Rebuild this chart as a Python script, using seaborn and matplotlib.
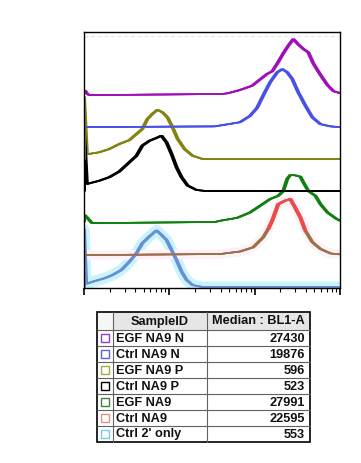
import matplotlib
matplotlib.use("Agg")
import numpy as np
import pandas as pd
import matplotlib.pyplot as plt
import matplotlib.transforms as mtransforms
from matplotlib.patches import Rectangle
from matplotlib.ticker import LogLocator, NullFormatter
import seaborn as sns

# ---------------- data ----------------
samples = ["EGF NA9 N", "Ctrl NA9 N", "EGF NA9 P", "Ctrl NA9 P", "EGF NA9", "Ctrl NA9", "Ctrl 2' only"]
medians = ["27430", "19876", "596", "523", "27991", "22595", "553"]
table_header = ["SampleID", "Median : BL1-A"]

egf_n_x = [100, 103, 108, 115, 3909, 4731, 6200, 7295, 9318, 12400, 14000, 16040, 18880, 21620, 24770,
           28360, 32510, 37240, 42650, 48860, 59050, 71430, 84100, 100000]
egf_n_y = [0.10, 0.14, 0.05, 0.0, 0.03, 0.05, 0.13, 0.19, 0.29, 0.55, 0.66, 0.74, 1.03, 1.30, 1.54,
           1.75, 1.58, 1.44, 1.33, 0.98, 0.63, 0.31, 0.12, 0.06]

ctrl_n_x = [100, 3413, 6730, 8830, 10670, 12560, 15190, 18370, 21050, 24100, 27590, 32510, 39300,
            47520, 59050, 77480, 100000]
ctrl_n_y = [0.0, 0.02, 0.15, 0.35, 0.60, 0.98, 1.40, 1.71, 1.81, 1.71, 1.50, 1.08, 0.67,
            0.30, 0.09, 0.02, 0.0]

egf_p_x = [100, 100, 108, 115, 150, 197, 259, 340, 411, 483, 553, 634, 726, 832, 953, 1091, 1250,
           1510, 1879, 2466, 100000]
egf_p_y = [0.0, 1.94, 0.16, 0.16, 0.21, 0.31, 0.47, 0.59, 0.78, 0.94, 1.25, 1.41, 1.54, 1.46, 1.30,
           0.99, 0.63, 0.31, 0.10, 0.0, 0.0]

ctrl_p_x = [100, 100, 108, 115, 150, 197, 259, 340, 411, 483, 584, 707, 809, 927, 1061, 1216, 1393,
            1640, 2094, 2748, 100000]
ctrl_p_y = [0.0, 1.94, 0.22, 0.24, 0.32, 0.43, 0.61, 0.90, 1.10, 1.42, 1.57, 1.66, 1.73, 1.52, 1.16,
            0.74, 0.43, 0.17, 0.03, 0.0, 0.0]

egf_x = [100, 102, 108, 124, 3413, 3909, 6200, 8830, 11580, 15190, 18880, 21620, 24100, 26140,
         29950, 34290, 37240, 42650, 51560, 59050, 71430, 88710, 100000]
egf_y = [0.05, 0.25, 0.18, 0.0, 0.03, 0.07, 0.16, 0.33, 0.54, 0.75, 0.85, 1.00, 1.38, 1.50,
         1.49, 1.45, 1.27, 1.00, 0.85, 0.59, 0.33, 0.15, 0.07]

ctrl_x = [100, 3909, 6730, 9573, 12560, 14390, 16040, 18880, 22810, 26140, 28360, 34290, 39300,
          47520, 59050, 77480, 100000]
ctrl_y = [0.0, 0.03, 0.11, 0.24, 0.55, 0.81, 1.07, 1.59, 1.70, 1.75, 1.59, 1.18, 0.76,
          0.40, 0.19, 0.05, 0.02]

sec_x = [100, 100, 106, 131, 172, 214, 273, 340, 411, 483, 584, 707, 809, 927, 1061, 1216, 1393,
         1596, 1879, 2466, 100000]
sec_y = [0.0, 1.80, 0.10, 0.18, 0.27, 0.37, 0.53, 0.79, 1.05, 1.37, 1.58, 1.77, 1.63, 1.47, 1.16,
         0.84, 0.48, 0.22, 0.06, 0.0, 0.0]

curves_x = [egf_n_x, ctrl_n_x, egf_p_x, ctrl_p_x, egf_x, ctrl_x, sec_x]
curves_y = [egf_n_y, ctrl_n_y, egf_p_y, ctrl_p_y, egf_y, ctrl_y, sec_y]

line_colors = ["#a010b8", "#4850e8", "#848414", "#000000", "#108010", "#9c7048", "#6a8ed6"]
swatch_colors = ["#9040c8", "#6060e0", "#a8a848", "#000000", "#408040", "#d89888", "#70d0e8"]
peak_red = "#f04a4a"

# ---------------- frame ----------------
rows = []
n = len(samples)
for i, s in enumerate(samples):
    base = n - 1 - i
    for k, (xv, yv) in enumerate(zip(curves_x[i], curves_y[i])):
        rows.append({"sample": s, "x": xv, "y": yv + base, "order": k})
df = pd.DataFrame(rows)

sns.set_theme(style="white")
plt.rcParams["font.family"] = ["Liberation Sans", "DejaVu Sans"]

fig = plt.figure(figsize=(3.61, 4.63), dpi=100)
fig.patch.set_facecolor("white")
ax = fig.add_axes([84 / 361, 1 - 288 / 463, 256 / 361, 256 / 463])
ax.set_xscale("log")
ax.set_xlim(100, 100000)
ax.set_ylim(-0.03, 7.97)

# faint artefact line near the top
ax.axhline(7.85, color="#e4e4e4", lw=0.8, ls=(0, (3, 3)), zorder=0.5)

# pale halos (colour bleed in the original)
sec_df = df[df["sample"] == "Ctrl 2' only"]
sns.lineplot(data=sec_df, x="x", y="y", estimator=None, sort=False, color="#c8f4fa",
             lw=8, ax=ax, legend=False, zorder=1)
ctrl_df = df[df["sample"] == "Ctrl NA9"]
sns.lineplot(data=ctrl_df, x="x", y="y", estimator=None, sort=False, color="#fdf2fa",
             lw=7, ax=ax, legend=False, zorder=1)

palette = dict(zip(samples, line_colors))
red_part = ctrl_df[(ctrl_df["x"] >= 14390) & (ctrl_df["x"] <= 39300)]
for dx in [-1.2, -0.4, 0.4, 1.2]:
    tr = ax.transData + mtransforms.ScaledTranslation(dx / fig.dpi, 0, fig.dpi_scale_trans)
    for s in samples[::-1]:
        sub = df[df["sample"] == s]
        sns.lineplot(data=sub, x="x", y="y", estimator=None, sort=False, color=palette[s],
                     lw=1.1, ax=ax, legend=False, transform=tr, zorder=2)
    sns.lineplot(data=red_part, x="x", y="y", estimator=None, sort=False, color=peak_red,
                 lw=1.1, ax=ax, legend=False, transform=tr, zorder=2.5)

ax.set_xlabel("")
ax.set_ylabel("")
ax.set_yticks([])
ax.xaxis.set_major_locator(LogLocator(base=10, numticks=10))
ax.xaxis.set_minor_locator(LogLocator(base=10, subs=np.arange(2, 10), numticks=10))
ax.xaxis.set_major_formatter(NullFormatter())
ax.xaxis.set_minor_formatter(NullFormatter())
ax.tick_params(axis="x", which="major", length=5, width=1.2, color="black", direction="out", bottom=True)
ax.tick_params(axis="x", which="minor", length=3, width=0.8, color="black", direction="out", bottom=True)
for sp in ax.spines.values():
    sp.set_color("black")
    sp.set_linewidth(1.0)
    sp.set_visible(True)

# ---------------- table ----------------
tax = fig.add_axes([0, 0, 1, 1])
tax.set_xlim(0, 361)
tax.set_ylim(463, 0)
tax.axis("off")

col_x = [97, 113, 207, 310]
row_y = [312, 330] + [330 + 16 * k for k in range(1, 8)]
tax.add_patch(Rectangle((col_x[0], row_y[0]), col_x[1] - col_x[0], row_y[1] - row_y[0],
                        facecolor="#f6f6f6", edgecolor="none"))
tax.add_patch(Rectangle((col_x[1], row_y[0]), col_x[3] - col_x[1], row_y[1] - row_y[0],
                        facecolor="#e6e6e6", edgecolor="none"))
for yv in row_y[1:-1]:
    tax.plot([col_x[0], col_x[-1]], [yv, yv], color="#606060", lw=0.8)
for xv in col_x[1:-1]:
    tax.plot([xv, xv], [row_y[0], row_y[-1]], color="#606060", lw=0.8)
tax.add_patch(Rectangle((col_x[0], row_y[0]), col_x[-1] - col_x[0], row_y[-1] - row_y[0],
                        facecolor="none", edgecolor="black", lw=1.2))

fs = 9.2
hy = (row_y[0] + row_y[1]) / 2
tax.text((col_x[1] + col_x[2]) / 2, hy + 0.5, table_header[0], ha="center", va="center",
         fontsize=fs, fontweight="bold", color="#111111")
tax.text((col_x[2] + col_x[3]) / 2, hy + 0.5, table_header[1], ha="center", va="center",
         fontsize=fs, fontweight="bold", color="#111111")
for i, s in enumerate(samples):
    yc = (row_y[i + 1] + row_y[i + 2]) / 2
    tax.add_patch(Rectangle((101, yc - 4), 8, 8, facecolor="white", edgecolor=swatch_colors[i], lw=1))
    tax.text(col_x[1] + 2.5, yc + 0.5, s, ha="left", va="center", fontsize=fs,
             fontweight="bold", color="#111111")
    tax.text(col_x[3] - 5, yc + 0.5, medians[i], ha="right", va="center", fontsize=fs,
             fontweight="bold", color="#111111")

fig.savefig("out.png", dpi=100, facecolor="white")
